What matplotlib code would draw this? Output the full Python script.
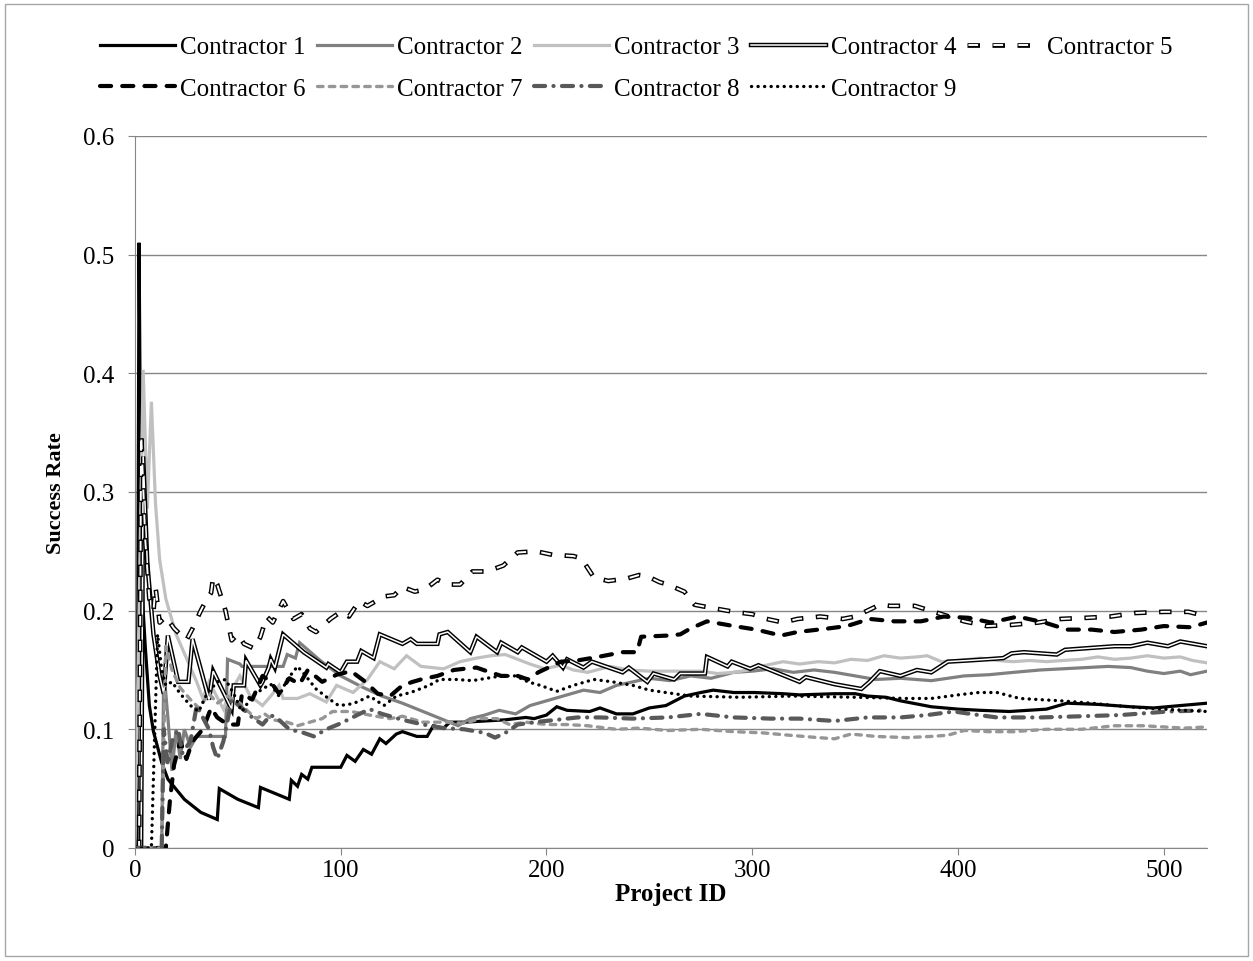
import matplotlib
matplotlib.use("Agg")
import matplotlib.pyplot as plt
from matplotlib.patches import Rectangle

plt.rcParams["font.family"] = ["Liberation Serif", "DejaVu Serif"]
plt.rcParams["lines.scale_dashes"] = False

# values (project id, success rate)
c1_x = [0, 1, 2, 3, 4, 5, 7, 9, 13, 16, 24, 32, 40, 41, 50, 60, 61, 68, 75, 76, 79, 81, 84, 86,
        88, 100, 103, 107, 111, 115, 119, 122, 127, 130, 137, 142, 145, 150, 153, 160, 170, 180,
        190, 194, 200, 205, 210, 221, 226, 234, 242, 250, 258, 267, 275, 281, 291, 301, 315, 323,
        340, 350, 356, 365, 372, 387, 400, 411, 425, 443, 453, 468, 484, 495, 508, 521]
c1_y = [0, 0, 0.51, 0.25, 0.2, 0.17, 0.12, 0.098, 0.072, 0.058, 0.041, 0.03, 0.024, 0.05, 0.041,
        0.034, 0.051, 0.046, 0.041, 0.057, 0.052, 0.062, 0.058, 0.068, 0.068, 0.068, 0.078, 0.073,
        0.083, 0.079, 0.092, 0.088, 0.096, 0.098, 0.094, 0.094, 0.103, 0.101, 0.106, 0.106, 0.107,
        0.108, 0.11, 0.109, 0.112, 0.119, 0.116, 0.115, 0.118, 0.113, 0.113, 0.118, 0.12, 0.128,
        0.131, 0.133, 0.131, 0.131, 0.13, 0.129, 0.13, 0.13, 0.128, 0.127, 0.124, 0.119, 0.117,
        0.116, 0.115, 0.117, 0.122, 0.121, 0.119, 0.118, 0.12, 0.122]

c2_x = [0, 13, 14, 16, 18, 20, 22, 24, 27, 30, 44, 45, 51, 52, 72, 74, 78, 80, 90, 100, 110, 120,
        130, 140, 150, 157, 163, 170, 177, 185, 192, 200, 208, 218, 226, 234, 242, 250, 260, 270,
        280, 291, 300, 310, 320, 330, 340, 350, 360, 372, 387, 403, 415, 427, 440, 451, 462, 473,
        484, 492, 500, 508, 513, 521]
c2_y = [0, 0, 0.15, 0.11, 0.065, 0.1, 0.075, 0.1, 0.085, 0.094, 0.094, 0.159, 0.155, 0.153, 0.153,
        0.163, 0.16, 0.173, 0.158, 0.145, 0.136, 0.128, 0.122, 0.115, 0.108, 0.103, 0.109, 0.112,
        0.116, 0.113, 0.12, 0.124, 0.128, 0.133, 0.131, 0.137, 0.14, 0.143, 0.141, 0.145, 0.143,
        0.148, 0.149, 0.151, 0.148, 0.15, 0.148, 0.145, 0.142, 0.143, 0.141, 0.145, 0.146, 0.148,
        0.15, 0.151, 0.152, 0.153, 0.152, 0.149, 0.147, 0.149, 0.146, 0.149]

c3_x = [0, 2, 4, 6, 8, 10, 12, 15, 20, 25, 30, 33, 36, 43, 46, 51, 56, 62, 66, 70, 72, 79, 85, 93,
        98, 106, 113, 119, 126, 132, 139, 150, 158, 166, 173, 180, 186, 192, 199, 207, 213, 220,
        231, 240, 250, 259, 267, 275, 283, 291, 298, 304, 315, 323, 332, 340, 348, 356, 364, 372,
        380, 385, 392, 400, 411, 419, 427, 435, 443, 451, 460, 468, 476, 484, 492, 500, 508, 514,
        521]
c3_y = [0, 0.2, 0.403, 0.286, 0.376, 0.29, 0.243, 0.21, 0.18, 0.16, 0.14, 0.126, 0.14, 0.117, 0.13,
        0.145, 0.128, 0.12, 0.128, 0.137, 0.126, 0.126, 0.13, 0.123, 0.137, 0.131, 0.142, 0.157,
        0.151, 0.162, 0.153, 0.151, 0.157, 0.16, 0.162, 0.163, 0.159, 0.155, 0.151, 0.154, 0.15,
        0.148, 0.153, 0.15, 0.149, 0.149, 0.149, 0.149, 0.147, 0.148, 0.15, 0.153, 0.157, 0.155,
        0.157, 0.156, 0.159, 0.158, 0.162, 0.16, 0.161, 0.162, 0.157, 0.158, 0.16, 0.158, 0.157,
        0.158, 0.157, 0.158, 0.159, 0.161, 0.159, 0.16, 0.162, 0.16, 0.161, 0.158, 0.156]

c4_x = [0, 3, 4, 6, 9, 12, 14, 16, 21, 26, 28, 36, 38, 47, 48, 53, 54, 61, 62, 65, 66, 68, 72, 82,
        93, 94, 100, 103, 108, 110, 116, 119, 130, 134, 137, 147, 148, 152, 163, 166, 176, 178, 186,
        188, 200, 203, 208, 210, 218, 222, 237, 240, 249, 252, 262, 265, 277, 278, 288, 290, 299,
        303, 323, 326, 340, 353, 357, 362, 372, 380, 387, 395, 405, 414, 422, 426, 432, 448, 452,
        460, 476, 484, 492, 502, 508, 521]
c4_y = [0, 0, 0.33, 0.24, 0.18, 0.145, 0.13, 0.179, 0.14, 0.14, 0.176, 0.125, 0.149, 0.117, 0.137,
        0.137, 0.158, 0.137, 0.14, 0.152, 0.159, 0.152, 0.18, 0.165, 0.152, 0.155, 0.148, 0.157,
        0.157, 0.166, 0.16, 0.18, 0.172, 0.176, 0.172, 0.172, 0.18, 0.182, 0.165, 0.178, 0.165,
        0.173, 0.165, 0.169, 0.157, 0.162, 0.152, 0.159, 0.152, 0.157, 0.148, 0.152, 0.14, 0.147,
        0.142, 0.147, 0.147, 0.161, 0.153, 0.157, 0.151, 0.154, 0.14, 0.144, 0.138, 0.134, 0.14,
        0.149, 0.145, 0.15, 0.148, 0.157, 0.158, 0.159, 0.16, 0.164, 0.165, 0.163, 0.167, 0.168,
        0.17, 0.17, 0.173, 0.17, 0.174, 0.17]

c5_x = [0, 2, 3, 5, 7, 9, 10, 12, 15, 19, 25, 28, 32, 35, 37, 38, 40, 44, 47, 50, 53, 58, 61, 64,
        67, 72, 77, 81, 85, 88, 95, 100, 104, 109, 113, 121, 126, 130, 136, 141, 147, 152, 158,
        164, 171, 179, 186, 195, 203, 213, 217, 223, 230, 239, 245, 249, 255, 259, 267, 272, 278,
        291, 300, 307, 315, 322, 333, 344, 350, 356, 362, 367, 379, 392, 403, 414, 426, 439, 450,
        463, 474, 486, 500, 512, 521]
c5_y = [0, 0, 0.35, 0.26, 0.21, 0.2, 0.22, 0.19, 0.195, 0.185, 0.175, 0.185, 0.2, 0.21, 0.215,
        0.228, 0.222, 0.2, 0.175, 0.18, 0.172, 0.168, 0.178, 0.195, 0.19, 0.208, 0.193, 0.197,
        0.185, 0.182, 0.193, 0.199, 0.195, 0.208, 0.204, 0.212, 0.213, 0.22, 0.216, 0.218, 0.226,
        0.222, 0.222, 0.233, 0.233, 0.238, 0.249, 0.25, 0.247, 0.246, 0.244, 0.228, 0.225, 0.227,
        0.23, 0.229, 0.224, 0.222, 0.216, 0.205, 0.203, 0.199, 0.197, 0.193, 0.19, 0.193, 0.195,
        0.193, 0.195, 0.2, 0.205, 0.204, 0.204, 0.197, 0.191, 0.187, 0.188, 0.19, 0.193, 0.194,
        0.195, 0.198, 0.199, 0.199, 0.195]

c6_x = [0, 15, 17, 19, 22, 25, 28, 33, 37, 40, 45, 50, 52, 57, 62, 66, 70, 75, 80, 84, 91, 98,
        105, 112, 118, 124, 130, 135, 139, 147, 155, 160, 166, 171, 178, 186, 191, 196, 207, 215,
        225, 237, 244, 246, 259, 265, 270, 278, 291, 302, 314, 322, 337, 346, 357, 369, 382, 393,
        405, 416, 429, 442, 453, 465, 476, 489, 500, 513, 521]
c6_y = [0, 0, 0.04, 0.07, 0.09, 0.075, 0.09, 0.1, 0.118, 0.11, 0.104, 0.104, 0.13, 0.125, 0.145,
        0.14, 0.13, 0.143, 0.138, 0.15, 0.14, 0.146, 0.149, 0.14, 0.13, 0.128, 0.137, 0.14, 0.142,
        0.145, 0.15, 0.151, 0.152, 0.149, 0.145, 0.145, 0.142, 0.148, 0.157, 0.158, 0.161, 0.165,
        0.165, 0.178, 0.179, 0.18, 0.185, 0.191, 0.187, 0.184, 0.179, 0.182, 0.185, 0.187, 0.193,
        0.191, 0.191, 0.195, 0.194, 0.19, 0.195, 0.19, 0.184, 0.184, 0.182, 0.184, 0.187, 0.186,
        0.19]

c7_x = [0, 13, 15, 18, 22, 27, 31, 36, 40, 45, 51, 55, 59, 63, 67, 74, 79, 85, 91, 96, 105, 114,
        124, 130, 140, 153, 160, 168, 176, 182, 190, 200, 210, 220, 234, 245, 259, 275, 291, 305,
        318, 332, 340, 348, 360, 375, 387, 395, 403, 415, 427, 443, 460, 476, 490, 500, 510, 521]
c7_y = [0, 0, 0.17, 0.15, 0.135, 0.125, 0.118, 0.13, 0.122, 0.128, 0.122, 0.115, 0.109, 0.113,
        0.108, 0.106, 0.103, 0.106, 0.109, 0.115, 0.115, 0.112, 0.109, 0.111, 0.106, 0.106, 0.105,
        0.109, 0.109, 0.104, 0.106, 0.104, 0.104, 0.103, 0.1, 0.101, 0.099, 0.1, 0.098, 0.097,
        0.095, 0.093, 0.092, 0.096, 0.094, 0.093, 0.094, 0.095, 0.099, 0.098, 0.098, 0.1, 0.1,
        0.103, 0.103, 0.102, 0.101, 0.102]

c8_x = [0, 13, 14, 16, 18, 21, 23, 27, 30, 33, 36, 38, 40, 43, 47, 52, 57, 62, 66, 70, 75, 82, 87,
        93, 100, 108, 114, 120, 130, 140, 150, 160, 170, 175, 180, 186, 194, 205, 215, 226, 242,
        259, 275, 291, 309, 323, 340, 356, 372, 385, 398, 410, 419, 440, 460, 479, 502, 521]
c8_y = [0, 0, 0.1, 0.07, 0.09, 0.1, 0.08, 0.09, 0.12, 0.11, 0.1, 0.085, 0.075, 0.09, 0.125, 0.118,
        0.11, 0.104, 0.112, 0.108, 0.1, 0.097, 0.094, 0.1, 0.105, 0.112, 0.117, 0.113, 0.108,
        0.104, 0.101, 0.1, 0.097, 0.093, 0.097, 0.104, 0.106, 0.108, 0.11, 0.11, 0.109, 0.11,
        0.113, 0.11, 0.109, 0.109, 0.107, 0.11, 0.11, 0.112, 0.115, 0.112, 0.11, 0.11, 0.111,
        0.112, 0.115, 0.116]

c9_x = [0, 8, 10, 11, 13, 15, 18, 22, 27, 31, 35, 40, 44, 48, 52, 57, 62, 66, 70, 74, 79, 83, 88,
        94, 99, 104, 108, 114, 121, 127, 134, 143, 148, 156, 164, 171, 178, 185, 191, 197, 205,
        213, 223, 232, 242, 250, 270, 294, 320, 350, 375, 387, 400, 410, 419, 430, 450, 465, 476,
        490, 500, 510, 521]
c9_y = [0, 0, 0.12, 0.18, 0.15, 0.137, 0.14, 0.13, 0.12, 0.115, 0.13, 0.14, 0.142, 0.13, 0.115,
        0.128, 0.134, 0.138, 0.128, 0.142, 0.153, 0.145, 0.134, 0.126, 0.12, 0.121, 0.123, 0.128,
        0.12, 0.128, 0.131, 0.137, 0.142, 0.142, 0.141, 0.143, 0.145, 0.145, 0.14, 0.137, 0.132,
        0.137, 0.142, 0.14, 0.137, 0.133, 0.128, 0.127, 0.128, 0.127, 0.126, 0.126, 0.129, 0.131,
        0.131, 0.126, 0.124, 0.122, 0.12, 0.118, 0.117, 0.116, 0.115]

labels = ["Contractor %d" % i for i in range(1, 10)]
xs = [c1_x, c2_x, c3_x, c4_x, c5_x, c6_x, c7_x, c8_x, c9_x]
ys = [c1_y, c2_y, c3_y, c4_y, c5_y, c6_y, c7_y, c8_y, c9_y]

# one or two strokes per series: (color, width, linestyle, capstyle)
styles = [
    [("black", 2.3, "-", "butt")],
    [("#808080", 2.3, "-", "butt")],
    [("#c0c0c0", 2.3, "-", "butt")],
    [("black", 3.2, "-", "butt"), ("white", 1.1, "-", "butt")],
    [("black", 3.4, (0, (9, 9)), "butt"), ("white", 1.4, (17, (7, 11)), "butt")],
    [("black", 3.0, (0, (8, 8)), "round")],
    [("#969696", 2.4, (0, (4, 4.5)), "round")],
    [("#595959", 3.0, (0, (8, 6, 0.1, 6)), "round")],
    [("black", 2.4, (0, (0.1, 4.6)), "round")],
]

fig = plt.figure(figsize=(12.53, 9.62), dpi=100)
ax = fig.add_axes([0.1077, 0.1175, 0.8556, 0.7401])

handles = []
for x, y, st in zip(xs, ys, styles):
    parts = []
    for color, lw, ls, cap in st:
        line, = ax.plot(x, y, color=color, lw=lw, linestyle=ls,
                        dash_capstyle=cap, solid_joinstyle="miter")
        parts.append(line)
    handles.append(tuple(parts) if len(parts) > 1 else parts[0])

ax.set_xlim(0, 521)
ax.set_ylim(0, 0.6)
ax.set_xticks([0, 100, 200, 300, 400, 500])
ax.set_yticks([0, 0.1, 0.2, 0.3, 0.4, 0.5, 0.6])
ax.set_yticklabels(["0", "0.1", "0.2", "0.3", "0.4", "0.5", "0.6"])
ax.grid(axis="y", color="#868686", lw=1)
ax.set_axisbelow(True)
for side in ["top", "right"]:
    ax.spines[side].set_visible(False)
for side in ["left", "bottom"]:
    ax.spines[side].set_color("#868686")
ax.tick_params(colors="#868686", labelcolor="black", labelsize=18, length=5)
ax.tick_params(axis="y", pad=10)
ax.tick_params(axis="x", pad=3)

ax.set_xlabel("Project ID", fontsize=18, fontweight="bold", labelpad=1)
ax.set_ylabel("Success Rate", fontsize=16, fontweight="bold", labelpad=12)

# legend: row 1 = contractors 1-5, row 2 = contractors 6-9
order = [0, 5, 1, 6, 2, 7, 3, 8, 4]
fig.legend([handles[i] for i in order], [labels[i] for i in order],
           loc="upper center", bbox_to_anchor=(0.508, 0.985), ncol=5, frameon=False,
           fontsize=18, handlelength=3.0, handletextpad=0.2, columnspacing=0.45,
           labelspacing=0.75)

fig.patches.append(Rectangle((0.004, 0.005), 0.992, 0.99, transform=fig.transFigure,
                             fill=False, edgecolor="#a6a6a6", lw=1))

fig.savefig("out.png", dpi=100)
